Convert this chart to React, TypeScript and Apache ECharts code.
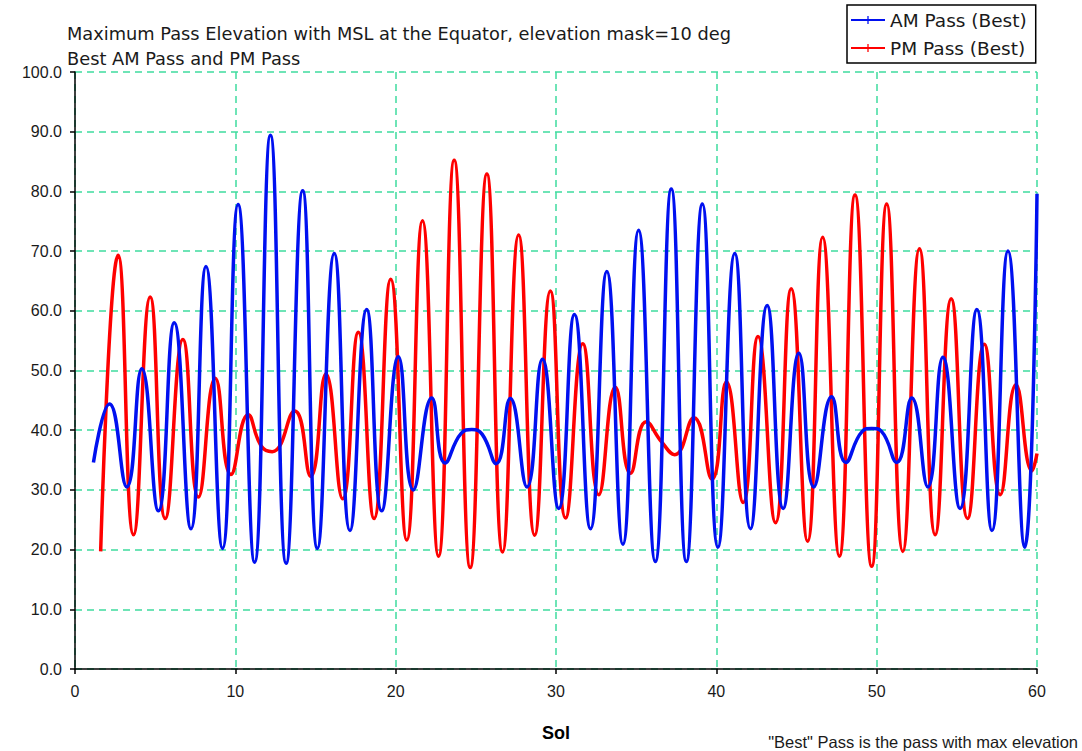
import React, { useEffect, useRef } from "react";
import * as echarts from "echarts";

const titleText = "Maximum Pass Elevation with MSL at the Equator, elevation mask=10 deg";
const subTitleText = "Best AM Pass and PM Pass";
const noteText = '"Best" Pass is the pass with max elevation';
const xName = "Sol";
const amName = "AM Pass (Best)";
const pmName = "PM Pass (Best)";

const xTicks = [0, 10, 20, 30, 40, 50, 60];
const yTicks = [0, 10, 20, 30, 40, 50, 60, 70, 80, 90, 100];

const amSol = [
  1.15, 2.15, 3.23, 4.17, 5.2, 6.19, 7.23, 8.17, 9.2, 10.17, 11.2, 12.19, 13.17, 14.2, 15.12,
  16.17, 17.15, 18.19, 19.13, 20.17, 21.1, 22.25, 23.08, 24.1, 24.75, 25.4, 26.27, 27.15, 28.19,
  29.15, 30.17, 31.15, 32.15, 33.17, 34.17, 35.15, 36.19, 37.19, 38.13, 39.13, 40.1, 41.15,
  42.13, 43.17, 44.17, 45.15, 46.08, 47.19, 48.08, 49.1, 49.69, 50.3, 51.25, 52.19, 53.19,
  54.13, 55.2, 56.25, 57.19, 58.19, 59.23, 60.0,
];
const amElev = [
  34.6, 44.4, 30.5, 50.3, 26.5, 58.0, 23.5, 67.4, 20.2, 77.8, 17.9, 89.4, 17.7, 80.1, 20.2,
  69.6, 23.2, 60.2, 26.5, 52.3, 30.0, 45.4, 34.5, 39.5, 40.1, 39.3, 34.4, 45.3, 30.5,
  51.9, 26.9, 59.4, 23.5, 66.6, 20.9, 73.5, 18.0, 80.4, 18.0, 77.9, 20.4, 69.6,
  23.5, 60.9, 26.9, 52.9, 30.5, 45.6, 34.6, 39.8, 40.3, 39.8, 34.6, 45.4, 30.5,
  52.2, 26.9, 60.2, 23.2, 70.0, 20.4, 79.6,
];

const pmSol = [
  1.6, 2.69, 3.65, 4.69, 5.63, 6.73, 7.7, 8.75, 9.73, 10.8, 11.6, 12.3, 13.7, 14.7, 15.65,
  16.69, 17.67, 18.65, 19.69, 20.69, 21.67, 22.67, 23.65, 24.65, 25.69, 26.67, 27.67, 28.67,
  29.65, 30.6, 31.67, 32.67, 33.7, 34.65, 35.63, 36.6, 37.4, 38.6, 39.73, 40.63, 41.67, 42.6,
  43.69, 44.67, 45.69, 46.63, 47.67, 48.65, 49.69, 50.63, 51.63, 52.67, 53.65, 54.65, 55.67,
  56.71, 57.71, 58.69, 59.69, 60.0,
];
const pmElev = [
  19.7, 69.3, 22.5, 62.3, 25.2, 55.2, 28.8, 48.7, 32.6, 42.6, 37.4, 36.4, 43.2, 32.3, 49.4,
  28.5, 56.4, 25.2, 65.3, 21.6, 75.1, 18.9, 85.2, 17.0, 82.9, 19.6, 72.7, 22.4,
  63.3, 25.3, 54.5, 29.2, 47.2, 32.8, 41.4, 38.0, 35.9, 42.1, 31.8, 48.1, 27.9, 55.7,
  24.5, 63.7, 21.4, 72.3, 18.9, 79.4, 17.2, 77.9, 19.7, 70.4, 22.5, 62.0, 25.2,
  54.4, 29.2, 47.6, 33.2, 36.1,
];

const plusSymbol = "path://M4.2,0h1.6v10h-1.6z M0,4.2h10v1.6h-10z";

export default function App() {
  const ref = useRef<HTMLDivElement>(null);
  useEffect(() => {
    if (!ref.current) return;
    const chart = echarts.init(ref.current, null, { renderer: "svg" });
    const amData = amSol.map((x, i) => [x, amElev[i]]);
    const pmData = pmSol.map((x, i) => [x, pmElev[i]]);
    const gridColor = "#3FDB9E";
    chart.setOption({
      animation: false,
      backgroundColor: "#ffffff",
      title: {
        text: titleText,
        subtext: subTitleText,
        left: 67,
        top: 21,
        padding: 0,
        itemGap: 1,
        textStyle: { fontFamily: "DejaVu Sans", fontSize: 17.8, fontWeight: "normal", color: "#1a1a1a", lineHeight: 24 },
        subtextStyle: { fontFamily: "DejaVu Sans", fontSize: 17.8, color: "#1a1a1a", lineHeight: 24 },
      },
      legend: {
        orient: "vertical",
        left: 847,
        top: 5,
        padding: [4, 9, 4, 3],
        itemGap: 6,
        itemWidth: 34,
        itemHeight: 10,
        borderColor: "#000",
        borderWidth: 1.5,
        borderRadius: 0,
        backgroundColor: "#fff",
        textStyle: { fontFamily: "DejaVu Sans", fontSize: 18.5, color: "#1a1a1a", lineHeight: 22 },
        data: [amName, pmName],
      },
      grid: { left: 75, right: 45, top: 72, bottom: 82, containLabel: false },
      xAxis: {
        type: "value",
        min: xTicks[0],
        max: xTicks[xTicks.length - 1],
        interval: 10,
        name: xName,
        nameLocation: "middle",
        nameGap: 55,
        nameTextStyle: { fontFamily: "Liberation Sans", fontSize: 18, fontWeight: "bold", color: "#000" },
        axisLine: { show: true, onZero: false, lineStyle: { color: "#000", width: 1.5 } },
        axisTick: { show: true, length: 5, lineStyle: { color: "#000", width: 1.5 } },
        axisLabel: { margin: 14, fontFamily: "Liberation Sans", fontSize: 16, color: "#1a1a1a" },
        splitLine: { show: true, lineStyle: { color: gridColor, width: 1.5, type: [7, 5] } },
      },
      yAxis: {
        type: "value",
        min: yTicks[0],
        max: yTicks[yTicks.length - 1],
        interval: 10,
        axisLine: { show: true, lineStyle: { color: "#000", width: 1.5 } },
        axisTick: { show: true, length: 5, lineStyle: { color: "#000", width: 1.5 } },
        axisLabel: {
          margin: 13,
          fontFamily: "Liberation Sans",
          fontSize: 16,
          color: "#1a1a1a",
          formatter: (v: number) => v.toFixed(1),
        },
        splitLine: { show: true, lineStyle: { color: gridColor, width: 1.5, type: [7, 5] } },
      },
      graphic: [
        {
          type: "text",
          right: 4,
          top: 733,
          style: { text: noteText, fontFamily: "Liberation Sans", fontSize: 16.5, fill: "#1a1a1a" },
        },
      ],
      series: [
        {
          name: amName,
          type: "line",
          data: amData,
          smooth: 0.5,
          showSymbol: false,
          symbol: plusSymbol,
          symbolSize: 9,
          itemStyle: { color: "#0010F0" },
          lineStyle: { color: "#0010F0", width: 3.5 },
          z: 3,
        },
        {
          name: pmName,
          type: "line",
          data: pmData,
          smooth: 0.5,
          showSymbol: false,
          symbol: plusSymbol,
          symbolSize: 9,
          itemStyle: { color: "#FF0000" },
          lineStyle: { color: "#FF0000", width: 3.5 },
          z: 2,
        },
      ],
    });
    return () => chart.dispose();
  }, []);
  return <div ref={ref} style={{ position: "absolute", left: 0, top: 0, width: 1082, height: 751 }} />;
}
